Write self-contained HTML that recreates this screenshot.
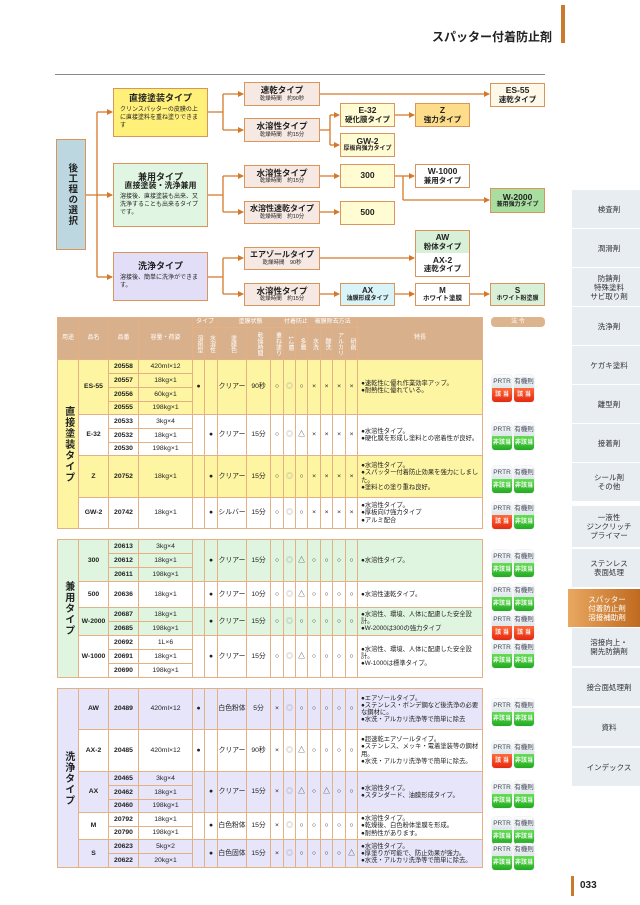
<!DOCTYPE html>
<html><head><meta charset="utf-8">
<style>
*{margin:0;padding:0;box-sizing:border-box}
body{width:640px;height:905px;background:#fff;position:relative;overflow:hidden;font-family:"Liberation Sans","Noto Sans CJK JP",sans-serif;color:#222}
.a{position:absolute}
.bx{position:absolute;border:1.5px solid #d9955a;text-align:center;display:flex;flex-direction:column;justify-content:center;align-items:center;line-height:1.1}
.bx b{font-size:8.5px;font-weight:bold;white-space:nowrap}
.bx s{text-decoration:none;font-size:5.5px}
.big{padding:3px 6px;align-items:flex-start}
.big b{align-self:center;font-size:9px;margin-bottom:2px}
.big s{text-align:left;font-size:6px;line-height:1.35}
.mid{background:#f6e8e2}
table.t{position:absolute;left:57px;width:426px;border-collapse:collapse;table-layout:fixed;border:1.8px solid #d58a45;font-size:6.8px;line-height:1.15}
table.t td,table.t th{border:0.8px solid #e6b085;text-align:center;vertical-align:middle;padding:0;overflow:hidden;white-space:nowrap}
table.t th{background:#d8b08c;color:#fff;font-weight:normal;font-size:6px}
th.v{writing-mode:vertical-rl;letter-spacing:0}
table.t td.n{font-weight:bold}
table.t td.f{text-align:left;padding-left:3px;white-space:normal;font-size:6.3px}
table.t td.u{font-weight:bold;font-size:10px;writing-mode:vertical-rl;letter-spacing:1px}
tr.y td{background:#fdf5a2}
tr.w td{background:#fff}
tr.g td{background:#e0f5e0}
tr.p td{background:#e6e5fa}
td.g2{color:#999}
.bd{position:absolute;width:20px;height:27px;border-radius:3px;overflow:hidden;box-shadow:0 0 1px #bbb}
.bd i{display:block;font-style:normal;height:13px;background:linear-gradient(#fafcfd,#dde6ea);font-size:6.5px;color:#445;text-align:center;line-height:13px}
.bd u{display:block;text-decoration:none;height:14px;color:#fff;font-size:6px;text-align:center;line-height:14px;font-weight:bold}
.r{background:linear-gradient(#ff6a3a,#e42a10)}
.gr{background:linear-gradient(#66dd55,#22aa22)}
.tab{position:absolute;left:572px;width:68px;height:38px;background:#e7edf1;font-size:7.5px;color:#333;display:flex;align-items:center;justify-content:center;text-align:center;line-height:1.2;padding-left:6px}
.act{background:linear-gradient(90deg,#e8a860,#c06a20);color:#fff;left:568px;width:72px}
</style></head><body>

<div class="a" style="left:432px;top:28px;font-size:12px;font-weight:bold;white-space:nowrap">スパッター付着防止剤</div>
<div class="a" style="left:561px;top:5px;width:4px;height:38px;background:#c97a2c"></div>
<div class="a" style="left:55px;top:74px;width:490px;height:1px;background:#888"></div>

<svg class="a" style="left:0;top:0" width="640" height="320">
<defs><marker id="m" markerWidth="6" markerHeight="6" refX="5" refY="3" orient="auto" markerUnits="userSpaceOnUse"><path d="M0,0 L6,3 L0,6z" fill="#d4782a"/></marker></defs>
<g stroke="#d4782a" stroke-width="1.3" fill="none">
<path d="M86,195 H97 M97,112 V277"/>
<path d="M97,112 H112" marker-end="url(#m)"/><path d="M97,195 H112" marker-end="url(#m)"/><path d="M97,277 H112" marker-end="url(#m)"/>
<path d="M208,112 H223 M223,94 V130 M208,195 H223 M223,176 V212 M208,277 H223 M223,258 V294"/>
<path d="M223,94 H243" marker-end="url(#m)"/><path d="M223,130 H243" marker-end="url(#m)"/>
<path d="M223,176 H243" marker-end="url(#m)"/><path d="M223,212 H243" marker-end="url(#m)"/>
<path d="M223,258 H243" marker-end="url(#m)"/><path d="M223,294 H243" marker-end="url(#m)"/>
<path d="M320,94 H489" marker-end="url(#m)"/>
<path d="M320,130 H330 M330,115 V145"/>
<path d="M330,115 H339" marker-end="url(#m)"/><path d="M330,145 H339" marker-end="url(#m)"/>
<path d="M395,115 H414" marker-end="url(#m)"/>
<path d="M320,176 H339" marker-end="url(#m)"/>
<path d="M395,176 H403 M403,176 V200"/>
<path d="M403,176 H414" marker-end="url(#m)"/><path d="M403,200 H489" marker-end="url(#m)"/>
<path d="M320,212 H339" marker-end="url(#m)"/>
<path d="M320,258 H414" marker-end="url(#m)"/>
<path d="M320,294 H339" marker-end="url(#m)"/><path d="M395,294 H414" marker-end="url(#m)"/><path d="M470,294 H489" marker-end="url(#m)"/>
</g></svg>

<div class="bx" style="left:56px;top:139px;width:30px;height:111px;background:#bcd7e0"><b style="writing-mode:vertical-rl;font-size:9.5px;letter-spacing:1px">後工程の選択</b></div>

<div class="bx big" style="left:113px;top:88px;width:95px;height:49px;background:#fff07a"><b>直接塗装タイプ</b><s>クリンスパッターの皮膜の上に直接塗料を重ね塗りできます</s></div>
<div class="bx big" style="left:113px;top:163px;width:95px;height:64px;background:#e0f6e2"><b style="margin-bottom:0">兼用タイプ</b><b style="font-size:8px">直接塗装・洗浄兼用</b><s>溶接後、直接塗装も出来、又洗浄することも出来るタイプです。</s></div>
<div class="bx big" style="left:113px;top:252px;width:95px;height:49px;background:#e2def7"><b>洗浄タイプ</b><s>溶接後、簡単に洗浄ができます。</s></div>

<div class="bx mid" style="left:244px;top:82px;width:76px;height:24px"><b>速乾タイプ</b><s>乾燥時間　約90秒</s></div>
<div class="bx mid" style="left:244px;top:118px;width:76px;height:24px"><b>水溶性タイプ</b><s>乾燥時間　約15分</s></div>
<div class="bx mid" style="left:244px;top:165px;width:76px;height:23px"><b>水溶性タイプ</b><s>乾燥時間　約15分</s></div>
<div class="bx mid" style="left:244px;top:201px;width:76px;height:23px"><b style="font-size:8px">水溶性速乾タイプ</b><s>乾燥時間　約10分</s></div>
<div class="bx mid" style="left:244px;top:247px;width:76px;height:23px"><b style="font-size:8px">エアゾールタイプ</b><s>乾燥時間　90秒</s></div>
<div class="bx mid" style="left:244px;top:283px;width:76px;height:23px"><b>水溶性タイプ</b><s>乾燥時間　約15分</s></div>

<div class="bx" style="left:340px;top:103px;width:55px;height:24px;background:#fffbd2"><b>E-32</b><b style="font-size:7.5px">硬化膜タイプ</b></div>
<div class="bx" style="left:340px;top:133px;width:55px;height:24px;background:#fffbd2"><b>GW-2</b><b style="font-size:6px">厚板向強力タイプ</b></div>
<div class="bx" style="left:340px;top:164px;width:55px;height:24px;background:#fffbd2"><b>300</b></div>
<div class="bx" style="left:340px;top:201px;width:55px;height:24px;background:#fffbd2"><b>500</b></div>
<div class="bx" style="left:340px;top:283px;width:55px;height:23px;background:#d8f4f8"><b style="font-size:8px">AX</b><b style="font-size:6px">油膜形成タイプ</b></div>

<div class="bx" style="left:415px;top:103px;width:55px;height:24px;background:#fddc8a"><b>Z</b><b style="font-size:7.5px">強力タイプ</b></div>
<div class="bx" style="left:415px;top:164px;width:55px;height:24px;background:#fff"><b>W-1000</b><b style="font-size:7.5px">兼用タイプ</b></div>
<div class="bx" style="left:415px;top:230px;width:55px;height:24px;background:#d8efd8"><b>AW</b><b style="font-size:7.5px">粉体タイプ</b></div>
<div class="bx" style="left:415px;top:253px;width:55px;height:24px;background:#fff;border-top:none"><b>AX-2</b><b style="font-size:7.5px">速乾タイプ</b></div>
<div class="bx" style="left:415px;top:283px;width:55px;height:23px;background:#fff"><b style="font-size:8px">M</b><b style="font-size:6.5px">ホワイト塗膜</b></div>

<div class="bx" style="left:490px;top:83px;width:55px;height:24px;background:#fdf8e8"><b>ES-55</b><b style="font-size:7.5px">速乾タイプ</b></div>
<div class="bx" style="left:490px;top:188px;width:55px;height:25px;background:#a8dfa0"><b>W-2000</b><b style="font-size:6px">兼用強力タイプ</b></div>
<div class="bx" style="left:490px;top:283px;width:55px;height:23px;background:#d8f0d8"><b style="font-size:8px">S</b><b style="font-size:6px">ホワイト粉塗膜</b></div>

<!-- TABLE 1 -->
<table class="t" style="top:317px">
<colgroup><col style="width:21px"><col style="width:30px"><col style="width:30px"><col style="width:54px"><col style="width:12px"><col style="width:13px"><col style="width:29px"><col style="width:24px"><col style="width:13px"><col style="width:12px"><col style="width:12px"><col style="width:13px"><col style="width:12px"><col style="width:13px"><col style="width:12px"><col style="width:125px"></colgroup>
<tr style="height:10px"><th rowspan="2">用途</th><th rowspan="2">品名</th><th rowspan="2">品番</th><th rowspan="2">容量・荷姿</th><th colspan="2">タイプ</th><th colspan="3">塗膜状態</th><th colspan="2">付着防止</th><th colspan="4">被膜除去方法</th><th rowspan="2">特長</th></tr>
<tr style="height:32px"><th class="v">溶剤型</th><th class="v">水溶性</th><th class="v">塗膜色</th><th class="v">乾燥時間</th><th class="v">重ね塗り</th><th class="v">1-2層</th><th class="v">多層</th><th class="v">水洗</th><th class="v">酸洗</th><th class="v">アルカリ</th><th class="v">研削</th></tr>
<tr class="y" style="height:14px"><td rowspan="9" class="u" style="background:#fdf5a2">直接塗装タイプ</td><td rowspan="4" class="n">ES-55</td><td class="n">20558</td><td>420ml×12</td><td rowspan="4">●</td><td rowspan="4"></td><td rowspan="4">クリアー</td><td rowspan="4">90秒</td><td rowspan="4">○</td><td rowspan="4" class="g2">◎</td><td rowspan="4">○</td><td rowspan="4">×</td><td rowspan="4">×</td><td rowspan="4">×</td><td rowspan="4">×</td><td rowspan="4" class="f">●速乾性に優れ作業効率アップ。<br>●耐熱性に優れている。</td></tr>
<tr class="y" style="height:14px"><td class="n">20557</td><td>18kg×1</td></tr>
<tr class="y" style="height:14px"><td class="n">20556</td><td>60kg×1</td></tr>
<tr class="y" style="height:13px"><td class="n">20555</td><td>198kg×1</td></tr>
<tr class="w" style="height:14px"><td rowspan="3" class="n">E-32</td><td class="n">20533</td><td>3kg×4</td><td rowspan="3"></td><td rowspan="3">●</td><td rowspan="3">クリアー</td><td rowspan="3">15分</td><td rowspan="3">○</td><td rowspan="3" class="g2">◎</td><td rowspan="3">△</td><td rowspan="3">×</td><td rowspan="3">×</td><td rowspan="3">×</td><td rowspan="3">×</td><td rowspan="3" class="f">●水溶性タイプ。<br>●硬化膜を形成し塗料との密着性が良好。</td></tr>
<tr class="w" style="height:14px"><td class="n">20532</td><td>18kg×1</td></tr>
<tr class="w" style="height:13px"><td class="n">20530</td><td>198kg×1</td></tr>
<tr class="y" style="height:42px"><td class="n">Z</td><td class="n">20752</td><td>18kg×1</td><td></td><td>●</td><td>クリアー</td><td>15分</td><td>○</td><td class="g2">◎</td><td>○</td><td>×</td><td>×</td><td>×</td><td>×</td><td class="f">●水溶性タイプ。<br>●スパッター付着防止効果を強力にしました。<br>●塗料との塗り重ね良好。</td></tr>
<tr class="w" style="height:31px"><td class="n">GW-2</td><td class="n">20742</td><td>18kg×1</td><td></td><td>●</td><td>シルバー</td><td>15分</td><td>○</td><td class="g2">◎</td><td>○</td><td>×</td><td>×</td><td>×</td><td>×</td><td class="f">●水溶性タイプ。<br>●厚板向け強力タイプ<br>●アルミ配合</td></tr>
</table>

<!-- TABLE 2 -->
<table class="t" style="top:539px">
<colgroup><col style="width:21px"><col style="width:30px"><col style="width:30px"><col style="width:54px"><col style="width:12px"><col style="width:13px"><col style="width:29px"><col style="width:24px"><col style="width:13px"><col style="width:12px"><col style="width:12px"><col style="width:13px"><col style="width:12px"><col style="width:13px"><col style="width:12px"><col style="width:125px"></colgroup>
<tr class="g" style="height:14px"><td rowspan="9" class="u" style="background:#e0f5e0">兼用タイプ</td><td rowspan="3" class="n">300</td><td class="n">20613</td><td>3kg×4</td><td rowspan="3"></td><td rowspan="3">●</td><td rowspan="3">クリアー</td><td rowspan="3">15分</td><td rowspan="3">○</td><td rowspan="3" class="g2">◎</td><td rowspan="3">△</td><td rowspan="3">○</td><td rowspan="3">○</td><td rowspan="3">○</td><td rowspan="3">○</td><td rowspan="3" class="f">●水溶性タイプ。</td></tr>
<tr class="g" style="height:14px"><td class="n">20612</td><td>18kg×1</td></tr>
<tr class="g" style="height:14px"><td class="n">20611</td><td>198kg×1</td></tr>
<tr class="w" style="height:26px"><td class="n">500</td><td class="n">20636</td><td>18kg×1</td><td></td><td>●</td><td>クリアー</td><td>10分</td><td>○</td><td class="g2">◎</td><td>△</td><td>○</td><td>○</td><td>○</td><td>○</td><td class="f">●水溶性速乾タイプ。</td></tr>
<tr class="g" style="height:14px"><td rowspan="2" class="n">W-2000</td><td class="n">20687</td><td>18kg×1</td><td rowspan="2"></td><td rowspan="2">●</td><td rowspan="2">クリアー</td><td rowspan="2">15分</td><td rowspan="2">○</td><td rowspan="2" class="g2">◎</td><td rowspan="2">○</td><td rowspan="2">○</td><td rowspan="2">○</td><td rowspan="2">○</td><td rowspan="2">○</td><td rowspan="2" class="f">●水溶性、環境、人体に配慮した安全設計。<br>●W-2000は300の強力タイプ</td></tr>
<tr class="g" style="height:14px"><td class="n">20685</td><td>198kg×1</td></tr>
<tr class="w" style="height:14px"><td rowspan="3" class="n">W-1000</td><td class="n">20692</td><td>1L×6</td><td rowspan="3"></td><td rowspan="3">●</td><td rowspan="3">クリアー</td><td rowspan="3">15分</td><td rowspan="3">○</td><td rowspan="3" class="g2">◎</td><td rowspan="3">△</td><td rowspan="3">○</td><td rowspan="3">○</td><td rowspan="3">○</td><td rowspan="3">○</td><td rowspan="3" class="f">●水溶性、環境、人体に配慮した安全設計。<br>●W-1000は標準タイプ。</td></tr>
<tr class="w" style="height:14px"><td class="n">20691</td><td>18kg×1</td></tr>
<tr class="w" style="height:14px"><td class="n">20690</td><td>198kg×1</td></tr>
</table>

<!-- TABLE 3 -->
<table class="t" style="top:688px">
<colgroup><col style="width:21px"><col style="width:30px"><col style="width:30px"><col style="width:54px"><col style="width:12px"><col style="width:13px"><col style="width:29px"><col style="width:24px"><col style="width:13px"><col style="width:12px"><col style="width:12px"><col style="width:13px"><col style="width:12px"><col style="width:13px"><col style="width:12px"><col style="width:125px"></colgroup>
<tr class="p" style="height:41px"><td rowspan="9" class="u" style="background:#e6e5fa">洗浄タイプ</td><td class="n">AW</td><td class="n">20489</td><td>420ml×12</td><td>●</td><td></td><td>白色粉体</td><td>5分</td><td>×</td><td class="g2">◎</td><td>○</td><td>○</td><td>○</td><td>○</td><td>○</td><td class="f">●エアゾールタイプ。<br>●ステンレス・ボンデ鋼など後洗浄の必要な鋼材に。<br>●水洗・アルカリ洗浄等で簡単に除去</td></tr>
<tr class="w" style="height:42px"><td class="n">AX-2</td><td class="n">20485</td><td>420ml×12</td><td>●</td><td></td><td>クリアー</td><td>90秒</td><td>×</td><td class="g2">◎</td><td>△</td><td>○</td><td>○</td><td>○</td><td>○</td><td class="f">●超速乾エアゾールタイプ。<br>●ステンレス、メッキ・電着塗装等の鋼材用。<br>●水洗・アルカリ洗浄等で簡単に除去。</td></tr>
<tr class="p" style="height:14px"><td rowspan="3" class="n">AX</td><td class="n">20465</td><td>3kg×4</td><td rowspan="3"></td><td rowspan="3">●</td><td rowspan="3">クリアー</td><td rowspan="3">15分</td><td rowspan="3">×</td><td rowspan="3" class="g2">◎</td><td rowspan="3">△</td><td rowspan="3">○</td><td rowspan="3">△</td><td rowspan="3">○</td><td rowspan="3">○</td><td rowspan="3" class="f">●水溶性タイプ。<br>●スタンダード、油膜形成タイプ。</td></tr>
<tr class="p" style="height:14px"><td class="n">20462</td><td>18kg×1</td></tr>
<tr class="p" style="height:13px"><td class="n">20460</td><td>198kg×1</td></tr>
<tr class="w" style="height:14px"><td rowspan="2" class="n">M</td><td class="n">20792</td><td>18kg×1</td><td rowspan="2"></td><td rowspan="2">●</td><td rowspan="2">白色粉体</td><td rowspan="2">15分</td><td rowspan="2">×</td><td rowspan="2" class="g2">◎</td><td rowspan="2">○</td><td rowspan="2">○</td><td rowspan="2">○</td><td rowspan="2">○</td><td rowspan="2">○</td><td rowspan="2" class="f">●水溶性タイプ。<br>●乾燥後、白色粉体塗膜を形成。<br>●耐熱性があります。</td></tr>
<tr class="w" style="height:13px"><td class="n">20790</td><td>198kg×1</td></tr>
<tr class="p" style="height:14px"><td rowspan="2" class="n">S</td><td class="n">20623</td><td>5kg×2</td><td rowspan="2"></td><td rowspan="2">●</td><td rowspan="2">白色固体</td><td rowspan="2">15分</td><td rowspan="2">×</td><td rowspan="2" class="g2">◎</td><td rowspan="2">○</td><td rowspan="2">○</td><td rowspan="2">○</td><td rowspan="2">○</td><td rowspan="2">△</td><td rowspan="2" class="f">●水溶性タイプ。<br>●厚塗りが可能で、防止効果が強力。<br>●水洗・アルカリ洗浄等で簡単に除去。</td></tr>
<tr class="p" style="height:14px"><td class="n">20622</td><td>20kg×1</td></tr>
</table>

<!-- badges -->
<div class="a" style="left:491px;top:317px;width:54px;height:10px;border-radius:4px;background:#dcb48e;color:#fff;font-size:6px;text-align:center;line-height:10px">法 令</div>
<div class="bd" style="left:492px;top:375px"><i>PRTR</i><u class="r">該 当</u></div><div class="bd" style="left:514px;top:375px"><i>有機則</i><u class="r">該 当</u></div>
<div class="bd" style="left:492px;top:423px"><i>PRTR</i><u class="gr">非該当</u></div><div class="bd" style="left:514px;top:423px"><i>有機則</i><u class="gr">非該当</u></div>
<div class="bd" style="left:492px;top:466px"><i>PRTR</i><u class="gr">非該当</u></div><div class="bd" style="left:514px;top:466px"><i>有機則</i><u class="gr">非該当</u></div>
<div class="bd" style="left:492px;top:502px"><i>PRTR</i><u class="r">該 当</u></div><div class="bd" style="left:514px;top:502px"><i>有機則</i><u class="gr">非該当</u></div>
<div class="bd" style="left:492px;top:550px"><i>PRTR</i><u class="gr">非該当</u></div><div class="bd" style="left:514px;top:550px"><i>有機則</i><u class="gr">非該当</u></div>
<div class="bd" style="left:492px;top:584px"><i>PRTR</i><u class="gr">非該当</u></div><div class="bd" style="left:514px;top:584px"><i>有機則</i><u class="gr">非該当</u></div>
<div class="bd" style="left:492px;top:613px"><i>PRTR</i><u class="r">該 当</u></div><div class="bd" style="left:514px;top:613px"><i>有機則</i><u class="r">該 当</u></div>
<div class="bd" style="left:492px;top:641px"><i>PRTR</i><u class="gr">非該当</u></div><div class="bd" style="left:514px;top:641px"><i>有機則</i><u class="gr">非該当</u></div>
<div class="bd" style="left:492px;top:699px"><i>PRTR</i><u class="gr">非該当</u></div><div class="bd" style="left:514px;top:699px"><i>有機則</i><u class="gr">非該当</u></div>
<div class="bd" style="left:492px;top:741px"><i>PRTR</i><u class="r">該 当</u></div><div class="bd" style="left:514px;top:741px"><i>有機則</i><u class="gr">非該当</u></div>
<div class="bd" style="left:492px;top:781px"><i>PRTR</i><u class="gr">非該当</u></div><div class="bd" style="left:514px;top:781px"><i>有機則</i><u class="gr">非該当</u></div>
<div class="bd" style="left:492px;top:817px"><i>PRTR</i><u class="gr">非該当</u></div><div class="bd" style="left:514px;top:817px"><i>有機則</i><u class="gr">非該当</u></div>
<div class="bd" style="left:492px;top:843px"><i>PRTR</i><u class="gr">非該当</u></div><div class="bd" style="left:514px;top:843px"><i>有機則</i><u class="gr">非該当</u></div>

<!-- sidebar -->
<div class="tab" style="top:190px">検査剤</div>
<div class="tab" style="top:229px">潤滑剤</div>
<div class="tab" style="top:268px">防錆剤<br>特殊塗料<br>サビ取り剤</div>
<div class="tab" style="top:307px">洗浄剤</div>
<div class="tab" style="top:346px">ケガキ塗料</div>
<div class="tab" style="top:385px">離型剤</div>
<div class="tab" style="top:424px">接着剤</div>
<div class="tab" style="top:463px">シール剤<br>その他</div>
<div class="tab" style="top:506px;height:41px">一液性<br>ジンクリッチ<br>プライマー</div>
<div class="tab" style="top:549px">ステンレス<br>表面処理</div>
<div class="tab act" style="top:589px">スパッター<br>付着防止剤<br>溶接補助剤</div>
<div class="tab" style="top:628px">溶接向上・<br>開先防錆剤</div>
<div class="tab" style="top:668px">接合面処理剤</div>
<div class="tab" style="top:708px">資料</div>
<div class="tab" style="top:748px">インデックス</div>

<div class="a" style="left:571px;top:876px;width:3px;height:20px;background:#c97a2c"></div>
<div class="a" style="left:580px;top:880px;font-size:10px;font-weight:bold">033</div>
</body></html>
